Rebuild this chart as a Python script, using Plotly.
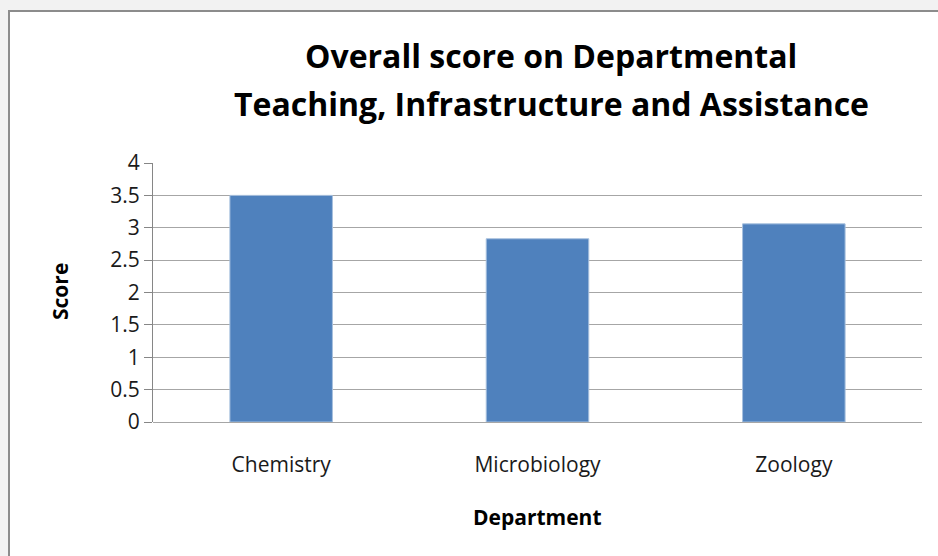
import plotly.graph_objects as go

# Chart data
departments = ["Chemistry", "Microbiology", "Zoology"]
scores = [3.5, 2.83, 3.06]
y_ticks = [0, 0.5, 1, 1.5, 2, 2.5, 3, 3.5, 4]
y_tick_labels = ["0", "0.5", "1", "1.5", "2", "2.5", "3", "3.5", "4"]

TITLE_LINES = ["Overall score on Departmental", "Teaching, Infrastructure and Assistance"]

W, H = 938, 556
M_L, M_R, M_T, M_B = 153, 16, 163, 134

BAR_COLOR = "#4f81bd"
GRID_COLOR = "#a6a6a6"
AXIS_COLOR = "#868686"
FONT = "'Open Sans', sans-serif"
TICK_SIZE = 21
AXIS_TITLE_SIZE = 21
TITLE_SIZE = 32


def px_x(p):
    return (p - M_L) / (W - M_L - M_R)


def px_y(p):
    return (H - M_B - p) / (H - M_T - M_B)


fig = go.Figure()
fig.add_trace(go.Bar(
    x=departments,
    y=scores,
    marker=dict(color=BAR_COLOR, line=dict(color="#a7c0de", width=1)),
    width=0.4,
))

# chart frame, Excel style
fig.add_shape(
    type="rect", xref="paper", yref="paper", layer="below",
    x0=px_x(9), x1=px_x(W + 20), y0=px_y(H + 20), y1=px_y(11),
    fillcolor="white", line=dict(color="#8c8c8c", width=2),
)

# title, two lines
for text, yc in zip(TITLE_LINES, [56, 103]):
    fig.add_annotation(
        text=text, xref="paper", yref="paper",
        x=px_x(551), y=px_y(yc), xanchor="center", yanchor="middle",
        showarrow=False,
        font=dict(family=FONT, size=TITLE_SIZE, color="#000000", weight="bold"),
    )

# axis titles
fig.add_annotation(
    text="Score", xref="paper", yref="paper",
    x=px_x(60), y=px_y(292), xanchor="center", yanchor="middle",
    textangle=-90, showarrow=False,
    font=dict(family=FONT, size=AXIS_TITLE_SIZE, color="#000000", weight="bold"),
)
fig.add_annotation(
    text="Department", xref="paper", yref="paper",
    x=px_x(537), y=px_y(517), xanchor="center", yanchor="middle",
    showarrow=False,
    font=dict(family=FONT, size=AXIS_TITLE_SIZE, color="#000000", weight="bold"),
)

fig.update_layout(
    width=W, height=H,
    margin=dict(l=M_L, r=M_R, t=M_T, b=M_B, autoexpand=False),
    paper_bgcolor="#f2f2f2",
    plot_bgcolor="white",
    showlegend=False,
    font=dict(family=FONT, color="#000000", size=TICK_SIZE),
    xaxis=dict(
        automargin=False,
        showgrid=False,
        showline=False,
        ticks="",
        ticklabelstandoff=28,
        tickfont=dict(size=TICK_SIZE, color="#1a1a1a"),
    ),
    yaxis=dict(
        automargin=False,
        range=[0, 4],
        tickvals=y_ticks,
        ticktext=y_tick_labels,
        showgrid=True,
        gridcolor=GRID_COLOR,
        gridwidth=1,
        showline=True,
        linecolor=AXIS_COLOR,
        linewidth=1,
        ticks="outside",
        ticklen=8,
        tickcolor=AXIS_COLOR,
        tickfont=dict(size=TICK_SIZE, color="#1a1a1a"),
        zeroline=True,
        zerolinecolor=GRID_COLOR,
        zerolinewidth=1,
    ),
)

# drop the default page margin so the figure sits at the window origin
fig.write_html(
    "out.html",
    config={"displayModeBar": False},
    post_script="document.body.style.margin='0';document.body.style.background='#f2f2f2';",
)
